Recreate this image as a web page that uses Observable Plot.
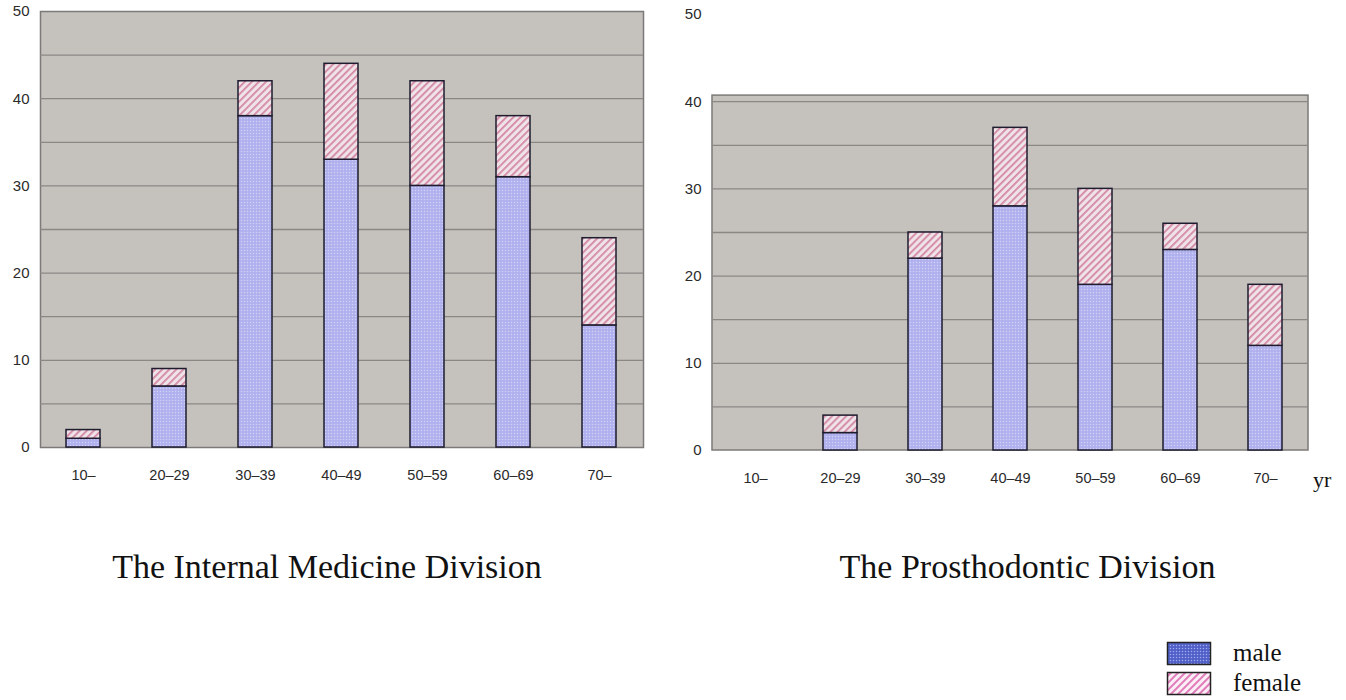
<!DOCTYPE html>
<html>
<head>
<meta charset="utf-8">
<script src="https://cdn.jsdelivr.net/npm/d3@7"></script>
<script src="https://cdn.jsdelivr.net/npm/@observablehq/plot@0.6"></script>
<style>
  body { margin: 0; background: #fff; width: 1346px; height: 700px; overflow: hidden; position: relative; font-family: "Liberation Sans", Arial, sans-serif; }
  .abs { position: absolute; }
  .serif { font-family: "Liberation Serif", "Times New Roman", serif; color: #111; line-height: 1.15; }
</style>
</head>
<body>
<svg width="0" height="0" style="position:absolute">
  <defs>
    <pattern id="pmale" width="3" height="3" patternUnits="userSpaceOnUse">
      <rect width="3" height="3" fill="#b0b0ee"></rect>
      <circle cx="1.5" cy="1.5" r="0.75" fill="#d2d2f6"></circle>
    </pattern>
    <pattern id="pfemale" width="5" height="5" patternUnits="userSpaceOnUse" patternTransform="rotate(45)">
      <rect width="5" height="5" fill="#efe3e8"></rect>
      <rect width="1.8" height="5" fill="#d488a5"></rect>
    </pattern>
    <pattern id="lmale" width="3" height="3" patternUnits="userSpaceOnUse">
      <rect width="3" height="3" fill="#5060c8"></rect>
      <circle cx="1.5" cy="1.5" r="0.75" fill="#a0aaec"></circle>
    </pattern>
    <pattern id="lfemale" width="5" height="5" patternUnits="userSpaceOnUse" patternTransform="rotate(45)">
      <rect width="5" height="5" fill="#fbeef6"></rect>
      <rect width="2" height="5" fill="#e07ab8"></rect>
    </pattern>
  </defs>
</svg>
<div id="left" class="abs" style="left:0;top:0"></div>
<div id="right" class="abs" style="left:660px;top:0"></div>
<div class="abs serif" style="left:1313px;top:467px;font-size:22px">yr</div>
<div class="abs serif" style="left:0;width:654px;top:547px;font-size:34px;text-align:center">The Internal Medicine Division</div>
<div class="abs serif" style="left:700px;width:655px;top:547px;font-size:34px;text-align:center">The Prosthodontic Division</div>
<svg class="abs" style="left:1166px;top:641px" width="48" height="56">
  <rect x="1.5" y="1.5" width="43" height="22" fill="url(#lmale)" stroke="#222" stroke-width="1.5"></rect>
  <rect x="1.5" y="31.5" width="43" height="22" fill="url(#lfemale)" stroke="#222" stroke-width="1.5"></rect>
</svg>
<div class="abs serif" style="left:1233px;top:639px;font-size:25px">male</div>
<div class="abs serif" style="left:1233px;top:669px;font-size:25px">female</div>
<script>
const ageGroups = ["10–", "20–29", "30–39", "40–49", "50–59", "60–69", "70–"];
const internalMale   = [1, 7, 38, 33, 30, 31, 14];
const internalFemale = [1, 2, 4, 11, 12, 7, 10];
const prosthMale     = [0, 2, 22, 28, 19, 23, 12];
const prosthFemale   = [0, 2, 3, 9, 11, 3, 7];
const yTickLabels = [0, 10, 20, 30, 40, 50];
const leftGrid = [5, 10, 15, 20, 25, 30, 35, 40, 45];
const rightGrid = [5, 10, 15, 20, 25, 30, 35, 40];
const rightPanelTop = 40.7;

function rows(male, female) {
  const out = [];
  ageGroups.forEach((a, i) => {
    out.push({age: a, sex: "male", value: male[i]});
    out.push({age: a, sex: "female", value: female[i]});
  });
  return out;
}

function chart({male, female, grid, width, marginLeft, marginRight, marginTop, marginBottom, panelTop}) {
  const bg = panelTop == null
    ? Plot.frame({fill: "#c5c2be", stroke: "#7c7a78", strokeWidth: 1.5})
    : Plot.rect([{}], {y1: 0, y2: () => panelTop, fill: "#c5c2be", stroke: "#7c7a78", strokeWidth: 1.5});
  return Plot.plot({
    width, height: 500,
    marginLeft, marginRight, marginTop, marginBottom,
    style: {fontFamily: "'Liberation Sans', Arial, sans-serif", color: "#2a2a2a", background: "transparent"},
    x: {domain: ageGroups, paddingInner: 0.6, paddingOuter: 0.3, label: null},
    y: {domain: [0, 50], label: null},
    color: {domain: ["male", "female"], range: ["url(#pmale)", "url(#pfemale)"]},
    marks: [
      bg,
      Plot.ruleY(grid, {stroke: "#8a8784", strokeWidth: 1.3}),
      Plot.barY(rows(male, female), Plot.stackY({x: "age", y: "value", fill: "sex", stroke: "#1e1c2e", strokeWidth: 1.5, order: ["male", "female"]})),
      Plot.axisY({ticks: yTickLabels, tickSize: 0, tickPadding: 11, tickFormat: d => d, fontSize: 15}),
      Plot.axisX({tickSize: 0, tickPadding: 22, fontSize: 14.5})
    ]
  });
}

document.getElementById("left").append(chart({
  male: internalMale, female: internalFemale, grid: leftGrid,
  width: 660, marginLeft: 40, marginRight: 17, marginTop: 11, marginBottom: 53
}));
document.getElementById("right").append(chart({
  male: prosthMale, female: prosthFemale, grid: rightGrid,
  width: 686, marginLeft: 52, marginRight: 38, marginTop: 14, marginBottom: 50, panelTop: rightPanelTop
}));
</script>
</body>
</html>
